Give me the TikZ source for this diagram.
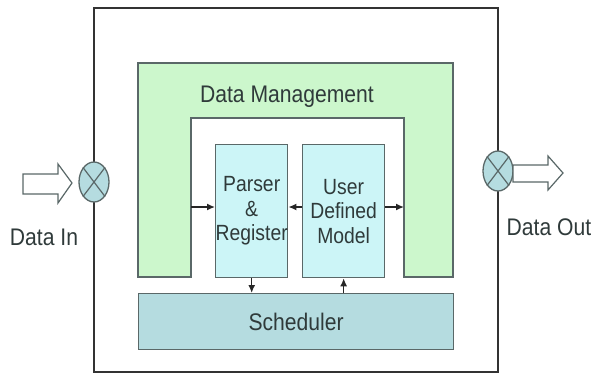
\documentclass[tikz,border=0pt]{standalone}
\usepackage{fontspec}
\setmainfont[FakeStretch=0.88]{Liberation Sans}
\usetikzlibrary{shapes.geometric,arrows.meta}
\definecolor{mgmtgreen}{HTML}{CCF7CC}
\definecolor{modcyan}{HTML}{CCF5F7}
\definecolor{schedteal}{HTML}{B5DCE0}
\definecolor{edgegray}{HTML}{5A6868}
\definecolor{inkgray}{HTML}{2F3A3A}
\begin{document}
\begin{tikzpicture}[x=1pt,y=-1pt,
  font=\fontsize{24}{24.5}\selectfont, text=inkgray,
  blockbox/.style={draw=edgegray, line width=1.3pt, anchor=north west,
    inner sep=0pt, align=center},
  link/.style={-{Latex[length=8pt,width=7pt]}, line width=1.4pt, draw=black!85},
  port/.style={ellipse, draw=edgegray, fill=schedteal, line width=1.3pt,
    minimum width=30pt, minimum height=40pt, inner sep=0pt},
  flow/.style={draw=edgegray, fill=white, line width=1.2pt, line join=miter},
  caption/.style={inner sep=0pt}]
\useasboundingbox (0,0) rectangle (595,376);

% outer system frame
\draw[line width=2.6pt, draw=black!80] (94,8) rectangle (498,372);

% data management band (U shape)
\draw[draw=edgegray, fill=mgmtgreen, line width=1.3pt]
  (138,63) -- (453,63) -- (453,277) -- (404,277) -- (404,118)
  -- (191,118) -- (191,277) -- (138,277) -- cycle;
\node[caption] (dm) at (287,97) {Data Management};
\coordinate (mgL) at (191,207);
\coordinate (mgR) at (404,207);

% inner modules
\node[blockbox, fill=modcyan, minimum width=63pt, minimum height=133pt,
  font=\fontsize{22}{24.5}\selectfont] (parser) at (215,144) {Parser\\\&\\Register};
\node[blockbox, fill=modcyan, minimum width=82pt, minimum height=133pt,
  font=\fontsize{22}{24.5}\selectfont] (user) at (302,144) {User\\Defined\\Model};
\node[blockbox, fill=schedteal, minimum width=315pt, minimum height=56pt]
  (sched) at (138,293) {Scheduler};

% internal links
\draw[link] (mgL) -- (mgL -| parser.west);
\draw[link] (user.west |- mgL) -- (parser.east |- mgL);
\draw[link] (user.east |- mgL) -- (mgR);
\draw[link] (parser.south) -- (parser.south |- sched.north);
\draw[link] (sched.north -| user.south) -- (user.south);

% input / output ports
\node[port] (pin) at (94,182) {};
\node[port] (pout) at (498,171) {};
\foreach \p in {pin,pout}{
  \draw[draw=edgegray, line width=1.2pt] (\p.north east) -- (\p.south west);
  \draw[draw=edgegray, line width=1.2pt] (\p.north west) -- (\p.south east);
}

% data flow arrows
\draw[flow] (23,174) -- (58,174) -- (58,164) -- (72,183) -- (58,203)
  -- (58,194) -- (23,194) -- cycle;
\draw[flow] (513,165) -- (548,165) -- (548,156) -- (563,173) -- (548,190)
  -- (548,182) -- (513,182) -- cycle;

\node[caption] (din) at (44,237) {Data In};
\node[caption] (dout) at (549,227) {Data Out};
\end{tikzpicture}
\end{document}
